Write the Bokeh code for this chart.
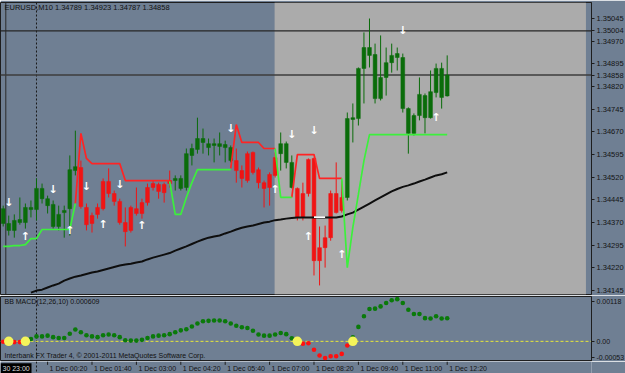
from bokeh.plotting import figure
from bokeh.layouts import column
from bokeh.models import (ColumnDataSource, FixedTicker, Span, Label, BoxAnnotation,
                          CustomJSTickFormatter, Range1d)
from bokeh.core.properties import value
from bokeh.embed import file_html
from bokeh.resources import INLINE

nan = float("nan")

# ---------------- texts ----------------
symbol_title = "EURUSD,M10  1.34789 1.34923 1.34787 1.34858"
macd_title = "BB MACD(12,26,10) 0.000609"
copyright_text = "Interbank FX Trader 4, \u00a9 2001-2011 MetaQuotes Software Corp."
cursor_time_label = "30 23:00"

# ---------------- time axis ----------------
time_tick_bars = [8, 16, 24, 32, 40, 48, 56, 64, 72, 80]
time_tick_labels = ["1 Dec 00:20", "1 Dec 01:40", "1 Dec 03:00", "1 Dec 04:20", "1 Dec 05:40",
                    "1 Dec 07:00", "1 Dec 08:20", "1 Dec 09:40", "1 Dec 11:00", "1 Dec 12:20"]
day_separator_bar = 6          # 1 Dec 00:00
session_box = (48.9, 105.0)     # shaded session (bar units)

# ---------------- price axis ----------------
price_ticks = [1.35045, 1.34970, 1.34895, 1.34820, 1.34745, 1.34670, 1.34595,
               1.34520, 1.34445, 1.34370, 1.34295, 1.34220, 1.34145]
price_range = (1.34132, 1.35098)
hline_price = 1.35004
bid_price = 1.34858

# ---------------- candles (M10) ----------------
open_ = [1.34367, 1.34344, 1.34344, 1.34370, 1.34370, 1.34413, 1.34413, 1.34449, 1.34426, 1.34357,
         1.34357, 1.34403, 1.34416, 1.34542, 1.34552, 1.34420, 1.34393, 1.34420, 1.34506, 1.34506,
         1.34466, 1.34440, 1.34370, 1.34420, 1.34416, 1.34436, 1.34486, 1.34499, 1.34496, 1.34496,
         1.34509, 1.34509, 1.34483, 1.34486, 1.34592, 1.34612, 1.34635, 1.34618, 1.34625, 1.34622,
         1.34618, 1.34575, 1.34575, 1.34542, 1.34598, 1.34602, 1.34545, 1.34502, 1.34529, 1.34585,
         1.34598, 1.34569, 1.34486, 1.34483, 1.34466, 1.34579, 1.34582, 1.34287, 1.34320, 1.34466,
         1.34466, 1.34453, 1.34453, 1.34711, 1.34714, 1.34880, 1.34923, 1.34780, 1.34780, 1.34850,
         1.34899, 1.34916, 1.34747, 1.34665, 1.34665, 1.34724, 1.34717, 1.34717, 1.34800, 1.34784,
         1.34789]
high = [1.34426, 1.34393, 1.34397, 1.34453, 1.34433, 1.34443, 1.34516, 1.34499, 1.34459, 1.34443,
        1.34426, 1.34426, 1.34592, 1.34674, 1.34575, 1.34433, 1.34403, 1.34433, 1.34516, 1.34549,
        1.34476, 1.34449, 1.34420, 1.34426, 1.34486, 1.34449, 1.34499, 1.34509, 1.34502, 1.34502,
        1.34542, 1.34526, 1.34526, 1.34615, 1.34631, 1.34717, 1.34681, 1.34648, 1.34648, 1.34668,
        1.34641, 1.34625, 1.34615, 1.34559, 1.34605, 1.34605, 1.34552, 1.34509, 1.34536, 1.34602,
        1.34668, 1.34638, 1.34592, 1.34486, 1.34502, 1.34582, 1.34585, 1.34357, 1.34360, 1.34476,
        1.34569, 1.34509, 1.34734, 1.34764, 1.34883, 1.34999, 1.35045, 1.34962, 1.34989, 1.34949,
        1.34962, 1.34949, 1.34929, 1.34751, 1.34731, 1.34850, 1.34797, 1.34873, 1.34896, 1.34899,
        1.34923]
low = [1.34357, 1.34327, 1.34320, 1.34363, 1.34350, 1.34387, 1.34377, 1.34433, 1.34400, 1.34350,
       1.34344, 1.34320, 1.34327, 1.34526, 1.34416, 1.34344, 1.34337, 1.34383, 1.34410, 1.34453,
       1.34426, 1.34363, 1.34291, 1.34337, 1.34393, 1.34383, 1.34426, 1.34476, 1.34449, 1.34436,
       1.34486, 1.34476, 1.34476, 1.34476, 1.34559, 1.34598, 1.34598, 1.34592, 1.34569, 1.34592,
       1.34569, 1.34569, 1.34502, 1.34486, 1.34502, 1.34529, 1.34483, 1.34420, 1.34426, 1.34519,
       1.34542, 1.34549, 1.34483, 1.34377, 1.34377, 1.34456, 1.34195, 1.34162, 1.34221, 1.34310,
       1.34400, 1.34403, 1.34443, 1.34635, 1.34691, 1.34764, 1.34883, 1.34764, 1.34774, 1.34790,
       1.34866, 1.34873, 1.34734, 1.34598, 1.34658, 1.34708, 1.34665, 1.34714, 1.34784, 1.34747,
       1.34787]
close = [1.34416, 1.34367, 1.34377, 1.34380, 1.34420, 1.34420, 1.34483, 1.34483, 1.34449, 1.34430,
         1.34397, 1.34410, 1.34545, 1.34555, 1.34423, 1.34363, 1.34367, 1.34397, 1.34416, 1.34466,
         1.34440, 1.34370, 1.34340, 1.34344, 1.34400, 1.34400, 1.34436, 1.34486, 1.34473, 1.34469,
         1.34499, 1.34516, 1.34516, 1.34598, 1.34615, 1.34648, 1.34648, 1.34631, 1.34631, 1.34631,
         1.34628, 1.34618, 1.34542, 1.34516, 1.34509, 1.34536, 1.34502, 1.34483, 1.34486, 1.34526,
         1.34631, 1.34631, 1.34569, 1.34387, 1.34387, 1.34466, 1.34244, 1.34244, 1.34287, 1.34320,
         1.34403, 1.34410, 1.34714, 1.34717, 1.34880, 1.34949, 1.34949, 1.34926, 1.34850, 1.34899,
         1.34923, 1.34929, 1.34916, 1.34747, 1.34724, 1.34794, 1.34790, 1.34803, 1.34880, 1.34880,
         1.34858]
trend = ["G", "G", "G", "G", "G", "G", "G", "G", "G", "G",
         "G", "G", "G", "G", "R", "R", "R", "R", "R", "R",
         "R", "R", "R", "R", "R", "R", "R", "R", "R", "R",
         "R", "G", "G", "G", "G", "G", "G", "G", "G", "G",
         "G", "G", "R", "R", "R", "R", "R", "R", "R", "R",
         "G", "G", "G", "R", "R", "R", "R", "R", "R", "R",
         "R", "R", "G", "G", "G", "G", "G", "G", "G", "G",
         "G", "G", "G", "G", "G", "G", "G", "G", "G", "G",
         "G"]

# ---------------- trailing stop lines ----------------
red_stop = [nan, nan, nan, nan, nan, nan, nan, nan, nan, nan,
            nan, nan, nan, 1.34433, 1.34665, 1.34582, 1.34565, 1.34565, 1.34565, 1.34565,
            1.34565, 1.34565, 1.34509, 1.34509, 1.34509, 1.34509, 1.34509, 1.34509, 1.34509, 1.34509,
            1.34509, nan, nan, nan, nan, nan, nan, nan, nan, nan,
            nan, 1.34549, 1.34694, 1.34635, 1.34635, 1.34635, 1.34635, 1.34615, 1.34615, 1.34615,
            nan, nan, 1.34453, 1.34595, 1.34595, 1.34595, 1.34595, 1.34516, 1.34516, 1.34516,
            1.34516, 1.34516, nan, nan, nan, nan, nan, nan, nan, nan,
            nan, nan, nan, nan, nan, nan, nan, nan, nan, nan,
            nan]
green_stop = [1.34291, 1.34291, 1.34294, 1.34294, 1.34297, 1.34317, 1.34317, 1.34347, 1.34347, 1.34347,
              1.34347, 1.34347, 1.34347, 1.34433, nan, nan, nan, nan, nan, nan,
              nan, nan, nan, nan, nan, nan, nan, nan, nan, nan,
              1.34506, 1.34397, 1.34397, 1.34453, 1.34502, 1.34545, 1.34545, 1.34545, 1.34545, 1.34545,
              1.34545, 1.34545, nan, nan, nan, nan, nan, nan, nan, 1.34615,
              1.34453, 1.34453, 1.34453, nan, nan, nan, nan, nan, nan, nan,
              nan, 1.34516, 1.34221, 1.34354, 1.34463, 1.34575, 1.34661, 1.34661, 1.34661, 1.34661,
              1.34661, 1.34661, 1.34661, 1.34661, 1.34661, 1.34661, 1.34661, 1.34661, 1.34661, 1.34661,
              1.34661]
moving_avg = [nan, nan, nan, nan, nan, 1.34138, 1.34145, 1.34148, 1.34155, 1.34162,
              1.34168, 1.34178, 1.34185, 1.34191, 1.34195, 1.34200, 1.34205, 1.34208, 1.34213, 1.34218,
              1.34223, 1.34228, 1.34231, 1.34234, 1.34238, 1.34241, 1.34248, 1.34254, 1.34259, 1.34264,
              1.34269, 1.34277, 1.34284, 1.34291, 1.34299, 1.34307, 1.34314, 1.34320, 1.34324, 1.34327,
              1.34334, 1.34340, 1.34347, 1.34353, 1.34357, 1.34360, 1.34365, 1.34370, 1.34373, 1.34378,
              1.34380, 1.34383, 1.34385, 1.34387, 1.34387, 1.34387, 1.34387, 1.34387, 1.34387, 1.34387,
              1.34387, 1.34390, 1.34397, 1.34403, 1.34413, 1.34423, 1.34433, 1.34443, 1.34453, 1.34463,
              1.34473, 1.34481, 1.34488, 1.34493, 1.34499, 1.34506, 1.34512, 1.34519, 1.34526, 1.34530,
              1.34536]
white_level_bars = [56, 57, 58]
white_level = [1.34388, 1.34388, 1.34388]

# ---------------- signal arrows ----------------
down_arrow_bars = [1, 9, 15, 21, 41, 52, 56, 72]
down_arrow_price = [1.34436, 1.34479, 1.34489, 1.34496, 1.34681, 1.34661, 1.34674, 1.35005]
up_arrow_bars = [4, 12, 18, 25, 49, 55, 61, 78]
up_arrow_price = [1.34324, 1.34344, 1.34363, 1.34360, 1.34479, 1.34324, 1.34264, 1.34717]

# ---------------- BB MACD ----------------
macd = [-0.00001, -0.00001, -0.00002, -0.00002, 0.00001, 0.00006, 0.00013, 0.00013, 0.00015, 0.00011,
        0.00009, 0.00009, 0.00020, 0.00031, 0.00024, 0.00016, 0.00013, 0.00011, 0.00016, 0.00018,
        0.00016, 0.00011, 0.00003, 0.00002, 0.00002, 0.00004, 0.00009, 0.00013, 0.00015, 0.00016,
        0.00019, 0.00024, 0.00029, 0.00032, 0.00039, 0.00047, 0.00053, 0.00054, 0.00055, 0.00055,
        0.00053, 0.00047, 0.00041, 0.00037, 0.00035, 0.00028, 0.00018, 0.00015, 0.00015, 0.00018,
        0.00022, 0.00019, 0.00008, -0.00001, -0.00006, -0.00005, -0.00022, -0.00037, -0.00044, -0.00039,
        -0.00039, -0.00033, -0.00011, 0.00011, 0.00038, 0.00066, 0.00085, 0.00086, 0.00092, 0.00101,
        0.00108, 0.00111, 0.00101, 0.00083, 0.00072, 0.00072, 0.00061, 0.00060, 0.00066, 0.00060,
        0.000609]
cross_bars = [1, 4, 53, 63]
macd_max = 0.00118
macd_min = -0.00053

# ---------------- styling ----------------
BG = "#6f7f93"
SESSION = "#ababab"
FRAME = "#1e1e1e"
GREEN_C = "#0a6c0a"
RED_C = "#f01414"
FONT = "Liberation Sans"
FW = 591            # frame width in px
RB = 34             # right border (price scale)
BAR_PX = 5.55       # px per bar
x_start = -0.486
x_end = x_start + FW / BAR_PX

bars = list(range(len(close)))
ccol = [GREEN_C if t == "G" else RED_C for t in trend]
src = ColumnDataSource(dict(
    x=bars, o=open_, h=high, l=low, c=close,
    top=[max(a, b) for a, b in zip(open_, close)],
    bottom=[min(a, b) for a, b in zip(open_, close)],
    color=ccol))

xr = Range1d(x_start, x_end)


def style_axis(ax, size="7px"):
    ax.minor_tick_line_color = None
    ax.major_tick_out = 3
    ax.major_tick_in = 0
    ax.major_tick_line_color = FRAME
    ax.axis_line_color = FRAME
    ax.major_label_standoff = 2
    ax.major_label_text_font = FONT
    ax.major_label_text_font_size = size
    ax.major_label_text_color = "#141414"


# ================= main price panel =================
p1 = figure(frame_width=FW, frame_height=292, x_range=xr,
            y_range=Range1d(*price_range), x_axis_location=None, y_axis_location="right",
            toolbar_location=None, output_backend="svg",
            min_border_left=0, min_border_right=RB, min_border_top=2, min_border_bottom=1,
            background_fill_color=BG, border_fill_color=BG, outline_line_color=FRAME)
p1.xgrid.grid_line_color = None
p1.ygrid.grid_line_color = None

p1.add_layout(BoxAnnotation(left=session_box[0], right=session_box[1], fill_color=SESSION,
                            fill_alpha=1.0, line_color=None, level="underlay"))
p1.add_layout(Span(location=day_separator_bar, dimension="height", line_color="#1a1a1a",
                   line_dash="2 2", line_width=1, level="underlay"))
p1.add_layout(Span(location=0.47, dimension="height", line_color="#2a2a2a",
                   line_width=1, level="underlay"))
p1.add_layout(Span(location=hline_price, dimension="width", line_color="#262626",
                   line_width=1.2, level="underlay"))
p1.add_layout(Span(location=bid_price, dimension="width", line_color="#3c3c3c",
                   line_width=1.5, level="underlay"))

# candles
p1.segment(x0="x", y0="l", x1="x", y1="h", line_color="color", line_width=1, source=src)
p1.vbar(x="x", width=0.68, top="top", bottom="bottom", fill_color="color",
        line_color="color", line_width=0.5, source=src)

# indicator lines
p1.line(bars, moving_avg, line_color="#0e0e0e", line_width=2)
p1.line(white_level_bars, white_level, line_color="#ffffff", line_width=1.6)
p1.line(bars, red_stop, line_color="#ff2424", line_width=1.7)
p1.line(bars, green_stop, line_color="#3cf03c", line_width=1.7)

# arrows
p1.text(x=down_arrow_bars, y=down_arrow_price, text=["\u2193"] * len(down_arrow_bars),
        text_font=value("DejaVu Sans"), text_font_style="bold", text_font_size="11px",
        text_color="#ffffff", text_align="center", text_baseline="middle")
p1.text(x=up_arrow_bars, y=up_arrow_price, text=["\u2191"] * len(up_arrow_bars),
        text_font=value("DejaVu Sans"), text_font_style="bold", text_font_size="11px",
        text_color="#ffffff", text_align="center", text_baseline="middle")

ya = p1.yaxis[0]
ya.ticker = FixedTicker(ticks=sorted(price_ticks + [hline_price, bid_price]))
ya.formatter = CustomJSTickFormatter(code="return tick.toFixed(5);")
style_axis(ya, "7.5px")

p1.add_layout(Label(x=4, y=287, x_units="screen", y_units="screen", text=symbol_title,
                    text_font=FONT, text_font_size="7.5px", text_color="#111111",
                    text_baseline="middle"))

# ================= BB MACD panel =================
p2 = figure(frame_width=FW, frame_height=65, x_range=xr,
            y_range=Range1d(macd_min, macd_max), x_axis_location=None,
            y_axis_location="right", toolbar_location=None, output_backend="svg",
            min_border_left=0, min_border_right=RB, min_border_top=1, min_border_bottom=0,
            background_fill_color=BG, border_fill_color=BG, outline_line_color=FRAME)
p2.xgrid.grid_line_color = None
p2.ygrid.grid_line_color = None
p2.add_layout(Span(location=day_separator_bar, dimension="height", line_color="#1a1a1a",
                   line_dash="2 2", line_width=1, level="underlay"))
p2.add_layout(Span(location=0, dimension="width", line_color="#e8e83a",
                   line_dash="3 2", line_width=1, level="underlay"))

mcol = ["#0a7a0a" if v > 0 else "#ff1010" for v in macd]
p2.scatter(bars, macd, size=4.6, fill_color=mcol, line_color=mcol, line_width=0)
p2.scatter(cross_bars, [0] * len(cross_bars), size=9.5, fill_color="#f4f45a",
           line_color="#f4f45a", line_width=0)

per_px = (macd_max - macd_min) / 65.0
top_lab = macd_max - 5 * per_px
bot_lab = macd_min + 4 * per_px
y2 = p2.yaxis[0]
y2.ticker = FixedTicker(ticks=[bot_lab, 0.0, top_lab])
y2.formatter = CustomJSTickFormatter(code="""
if (tick > %r) { return '%.5f'; }
if (tick < %r) { return '%.5f'; }
return '0.00';""" % (top_lab * 0.5, macd_max, bot_lab * 0.5, macd_min))
style_axis(y2)

p2.add_layout(Label(x=4, y=60, x_units="screen", y_units="screen", text=macd_title,
                    text_font=FONT, text_font_size="7px", text_color="#111111",
                    text_baseline="middle"))
p2.add_layout(Label(x=4, y=6, x_units="screen", y_units="screen", text=copyright_text,
                    text_font=FONT, text_font_size="7px", text_color="#111111",
                    text_baseline="middle"))

# ================= time scale strip =================
p3 = figure(frame_width=FW, frame_height=12, x_range=xr, y_range=Range1d(0, 1),
            x_axis_location=None, y_axis_location=None, toolbar_location=None,
            output_backend="svg", min_border_left=0, min_border_right=RB,
            min_border_top=0, min_border_bottom=0,
            background_fill_color=BG, border_fill_color=BG, outline_line_color=None)
p3.xgrid.grid_line_color = None
p3.ygrid.grid_line_color = None
p3.add_layout(Span(location=day_separator_bar, dimension="height", line_color="#1a1a1a",
                   line_dash="2 2", line_width=1, level="underlay"))
# time scale tick marks
p3.segment(x0=time_tick_bars, y0=[1.0] * len(time_tick_bars), x1=time_tick_bars,
           y1=[0.72] * len(time_tick_bars), line_color=FRAME, line_width=1)
p3.text(x=time_tick_bars, y=[0.4] * len(time_tick_bars), text=time_tick_labels,
        x_offset=2, text_font=value(FONT), text_font_size="7px", text_color="#141414",
        text_align="left", text_baseline="middle")
cursor_w = 31 / BAR_PX
p3.quad(left=[x_start], right=[x_start + cursor_w], bottom=[0], top=[0.85],
        fill_color="#000000", line_color=None)
p3.text(x=[x_start], y=[0.4], text=[cursor_time_label], x_offset=2,
        text_font=value(FONT), text_font_size="7px", text_color="#dddddd",
        text_align="left", text_baseline="middle")

layout = column(p1, p2, p3, spacing=0)
open("out.html", "w").write(file_html(layout, INLINE))
